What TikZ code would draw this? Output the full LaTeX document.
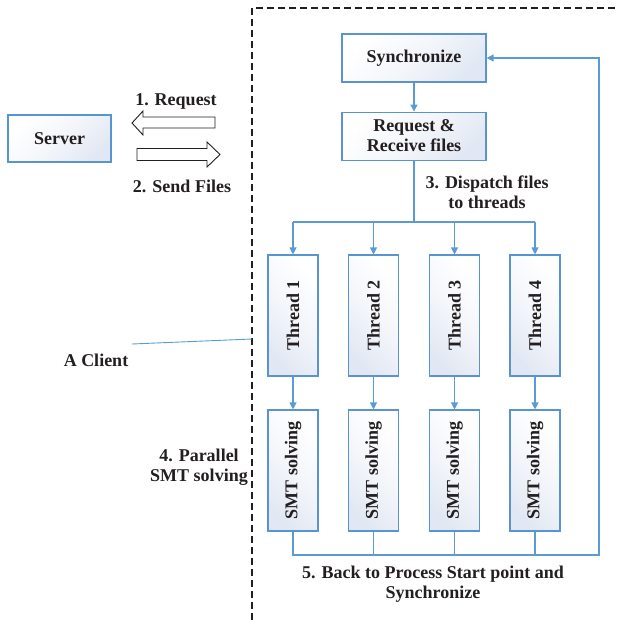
\documentclass[tikz,border=0pt]{standalone}
\usepackage{fontspec}
\setmainfont{Liberation Serif}
\usetikzlibrary{positioning,arrows.meta}

\definecolor{lineblue}{RGB}{91,155,213}
\definecolor{boxblue}{RGB}{88,148,207}
\definecolor{boxshade}{RGB}{226,232,243}
\definecolor{inkgray}{RGB}{35,31,32}

\begin{document}
\begin{tikzpicture}[x=1pt, y=-1pt, font=\fontsize{18}{20}\selectfont\bfseries, text=inkgray,
  box/.style={draw=boxblue, line width=1.1pt, top color=white, bottom color=boxshade,
    middle color=white!60!boxshade, shading angle=45, align=center, inner sep=2pt},
  wbox/.style={box, minimum width=144pt, minimum height=48pt},
  tbox/.style={box, rotate=90, shading angle=-45, minimum width=121pt, minimum height=50pt},
  link/.style={draw=lineblue, line width=1.1pt},
  arr/.style={link, -{Triangle[length=7pt, width=7pt]}},
  hollow/.style={draw=inkgray, line width=0.9pt, fill=white}]
\useasboundingbox (0,0) rectangle (618,620);

% client boundary
\draw[inkgray, line width=1.1pt, dash pattern=on 7pt off 4pt] (252,620) -- (252,8) -- (618,8);

% server side
\node[box, minimum width=103pt, minimum height=47pt] (server) at (59.5,138.5) {Server};
\node (req) at (176,101) {1. Request};
\node (send) at (182,186) {2. Send Files};
\draw[hollow] (132,123) -- (143,111) -- (143,117) -- (215,117) -- (215,128)
  -- (143,128) -- (143,135) -- cycle;
\draw[hollow] (220,154.5) -- (207,142) -- (207,148.5) -- (137,148.5) -- (137,160.5)
  -- (207,160.5) -- (207,167) -- cycle;

\node (client) at (96,360) {A Client};
\coordinate (cltail) at (132,344);
\coordinate (clhead) at (252,339);
\draw[draw=lineblue, line width=0.9pt] (cltail) -- (clhead);

% client process
\node[wbox] (sync) at (414,58) {Synchronize};
\node[wbox, below=29pt of sync] (recv) {Request \&\\ Receive files};
\draw[arr] (sync) -- (recv);

\foreach \i/\x in {1/293,2/373.5,3/454.5,4/535} {
  \node[tbox] (th\i) at (\x,315.5) {Thread \i};
  \node[tbox] (smt\i) at (\x,470.5) {SMT solving};
  \draw[arr] (th\i.west) -- (smt\i.east);
}

\coordinate (split) at (414,222);
\draw[link] (recv) -- (split);
\draw[link] (th1.east |- split) -- (th4.east |- split);
\foreach \i in {1,...,4}
  \draw[arr] (th\i.east |- split) -- (th\i.east);
\node[align=center] (dispatch) at (487,192) {3. Dispatch files\\ to threads};

\coordinate (join) at (599,555);
\foreach \i in {2,3,4}
  \draw[link] (smt\i.west) -- (smt\i.west |- join);
\draw[arr] (smt1.west) |- (join) |- (sync.east);

\node[align=center] (parallel) at (199,467) {4. Parallel\\ SMT solving};
\node[align=center] (back) at (433,584) {5. Back to Process Start point and\\ Synchronize};
\end{tikzpicture}
\end{document}
